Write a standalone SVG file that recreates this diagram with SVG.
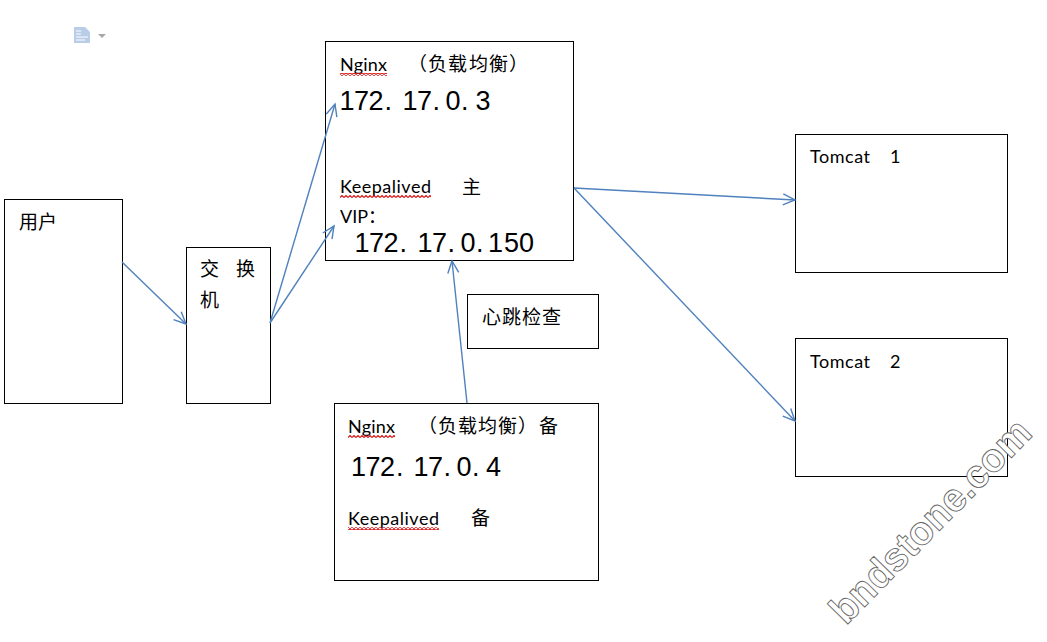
<svg xmlns="http://www.w3.org/2000/svg" width="1047" height="642" viewBox="0 0 1047 642">
<style>
.box{fill:#fff;stroke:#000;stroke-width:1}
.t{font-family:"Lato","Noto Sans CJK SC",sans-serif;font-size:18px;fill:#000}
.cn{font-family:"Noto Sans CJK SC",sans-serif;font-size:19px;fill:#000}
.ip{font-family:"Liberation Sans",Arial,sans-serif;font-size:27px;fill:#000}
.wm{font-family:"Liberation Sans",Arial,sans-serif;font-size:40px;font-weight:700;fill:#fff;stroke:#666;stroke-width:.9}
.c{fill:none;stroke:#4f81bd;stroke-width:1.4;marker-end:url(#a)}
</style>
<defs>
<marker id="a" markerUnits="userSpaceOnUse" markerWidth="20" markerHeight="20" refX="15" refY="10" orient="auto">
<path d="M3 4.500L15 10L3 15.500" fill="none" stroke="#4f81bd" stroke-width="1.4"/>
</marker>
<pattern id="w" width="4" height="3" patternUnits="userSpaceOnUse">
<path d="M0 2.500L2 .5L4 2.500" fill="none" stroke="#d81010" stroke-width="1.1"/>
</pattern>
</defs>
<rect width="1047" height="642" fill="#fff"/>
<g id="doc-icon">
<path d="M74 27H85L90 32V43H74Z" fill="#b9cde8"/>
<path d="M76 31H81M76 34H81M76 37H88M76 40H85" stroke="#fff" stroke-width="1"/>
<path d="M98 34H106L102 38Z" fill="#a8a8a8"/>
</g>
<g id="user"><rect class="box" x="4.500" y="199.500" width="118" height="204"/><text class="cn" x="19" y="229">用户</text></g>
<g id="switch"><rect class="box" x="186.500" y="247.500" width="84" height="156"/><text class="cn" x="200" y="276">交</text><text class="cn" x="236" y="276">换</text><text class="cn" x="200" y="307">机</text></g>
<g id="nginx-main"><rect class="box" x="325.500" y="41.500" width="248" height="219"/>
<text class="t" x="340" y="71" textLength="47">Nginx</text><rect x="340" y="73" width="47" height="3" fill="url(#w)"/>
<text class="cn" x="408 428 448 469 489 509" y="71">（负载均衡）</text>
<text class="ip" x="339.500 354 368.500 384.500 395 402.500 417 432.500 440 445.500 461 470 475.500" y="110">172. 17. 0. 3</text>
<text class="t" x="340" y="193" textLength="91">Keepalived</text><rect x="340" y="195" width="91" height="3" fill="url(#w)"/>
<text class="cn" x="462" y="194">主</text>
<text class="t" x="340" y="223">VIP：</text>
<text class="ip" x="354.500 369 383.500 399.500 410 417.500 432 447.500 455 460.500 476 485 488 504 519" y="252">172. 17. 0. 150</text></g>
<g id="tomcat1"><rect class="box" x="795.500" y="134.500" width="212" height="138"/><text class="t" x="810" y="163" textLength="60">Tomcat</text><text class="t" x="890" y="163">1</text></g>
<g id="tomcat2"><rect class="box" x="795.500" y="338.500" width="212" height="138"/><text class="t" x="810" y="368" textLength="60">Tomcat</text><text class="t" x="890" y="368">2</text></g>
<g id="heartbeat"><rect class="box" x="467.500" y="294.500" width="131" height="54"/><text class="cn" x="482 502 522 542" y="324">心跳检查</text></g>
<g id="nginx-backup"><rect class="box" x="334.500" y="403.500" width="264" height="177"/>
<text class="t" x="348" y="433" textLength="47">Nginx</text><rect x="348" y="435" width="47" height="3" fill="url(#w)"/>
<text class="cn" x="418 438 458 478 498 518 539" y="433">（负载均衡）备</text>
<text class="ip" x="351 365.500 380 396 407 413.500 428 443.500 451 456.500 472 481 486" y="476">172. 17. 0. 4</text>
<text class="t" x="348" y="525" textLength="91">Keepalived</text><rect x="348" y="527" width="91" height="3" fill="url(#w)"/>
<text class="cn" x="471" y="525">备</text></g>
<g id="connectors">
<path class="c" d="M122 262L186 324"/>
<path class="c" d="M270 323L335 104"/>
<path class="c" d="M270 323L334 226"/>
<path class="c" d="M574 188L795 200"/>
<path class="c" d="M574 188L795 421"/>
<path class="c" d="M467 403L452 261"/>
</g>
<g id="watermark"><text class="wm" transform="translate(846 626) rotate(-45.500)" textLength="268" lengthAdjust="spacingAndGlyphs">bndstone.com</text></g>
</svg>
